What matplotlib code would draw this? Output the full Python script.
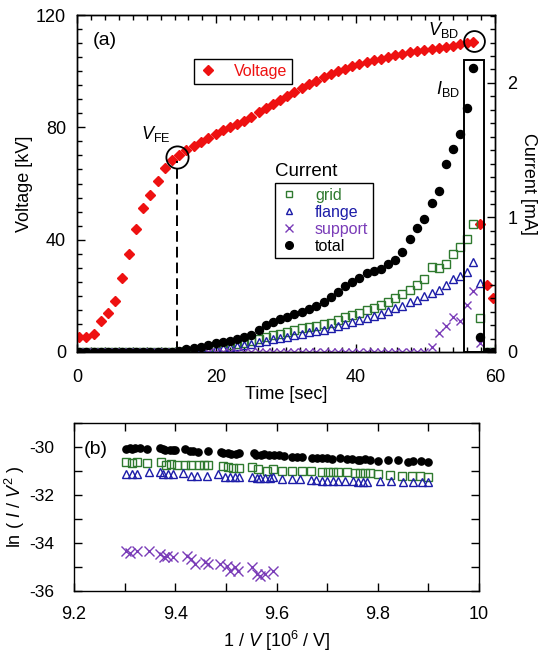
import matplotlib
matplotlib.use('Agg')
import matplotlib.pyplot as plt
from matplotlib.ticker import MultipleLocator, FuncFormatter
from matplotlib.patches import Rectangle
from matplotlib.lines import Line2D

plt.rcParams['font.family'] = ['Liberation Sans', 'DejaVu Sans']
plt.rcParams['mathtext.fontset'] = 'custom'
plt.rcParams['mathtext.rm'] = 'Liberation Sans'
plt.rcParams['mathtext.it'] = 'Liberation Sans:italic'
plt.rcParams['mathtext.bf'] = 'Liberation Sans:bold'
plt.rcParams['axes.unicode_minus'] = False

# ---------------- data: panel (a) ----------------
time_s = [0.3, 1.3, 2.4, 3.4, 4.4, 5.5, 6.5, 7.5, 8.5, 9.5, 10.5, 11.6, 12.6, 13.7,
          14.7, 15.7, 16.8, 17.8, 18.8, 19.9, 20.9, 21.9, 23.0, 24.0,
          25.0, 26.1, 27.1, 28.1, 29.2, 30.2, 31.2, 32.3, 33.3, 34.3,
          35.4, 36.4, 37.4, 38.5, 39.5, 40.5, 41.6, 42.6, 43.6, 44.7,
          45.7, 46.7, 47.8, 48.8, 49.8, 50.9, 51.9, 52.9, 54.0, 55.0,
          56.0, 56.9, 57.8, 58.8, 59.7]
voltage_kv = [5.2, 5.2, 6.3, 11.0, 14.0, 18.3, 26.2, 34.9, 43.7, 51.1, 55.9, 61.0, 65.6, 68.3,
              70.3, 72.0, 73.4, 74.8, 76.2, 77.6, 78.9, 80.1, 81.3, 82.4,
              83.8, 85.4, 87.0, 88.4, 89.9, 91.2, 92.5, 94.0, 95.3, 96.6,
              97.9, 99.0, 99.9, 100.9, 101.7, 102.5, 103.2, 103.9, 104.5, 105.2,
              105.7, 106.2, 106.7, 107.1, 107.5, 107.9, 108.3, 108.7, 109.1, 109.5,
              109.9, 110.3, 45.5, 23.8, 19.3]
grid_ma = [0.0, 0.0, 0.0, 0.0, 0.0, 0.0, 0.0, 0.0, 0.0, 0.0, 0.0, 0.0, 0.0, 0.0,
           0.0, 0.005, 0.01, 0.015, 0.02, 0.03, 0.04, 0.05, 0.06, 0.07,
           0.08, 0.1, 0.115, 0.125, 0.135, 0.15, 0.16, 0.175, 0.185, 0.195,
           0.205, 0.218, 0.24, 0.26, 0.275, 0.29, 0.31, 0.33, 0.35, 0.37,
           0.4, 0.43, 0.46, 0.5, 0.545, 0.634, 0.627, 0.655, 0.73, 0.783,
           0.84, 0.95, 0.25, 0.0, 0.0]
flange_ma = [0.0, 0.0, 0.0, 0.0, 0.0, 0.0, 0.0, 0.0, 0.0, 0.0, 0.0, 0.0, 0.0, 0.0,
             0.0, 0.005, 0.008, 0.012, 0.017, 0.023, 0.03, 0.037, 0.045, 0.053,
             0.062, 0.075, 0.085, 0.095, 0.105, 0.115, 0.125, 0.135, 0.145, 0.155,
             0.165, 0.175, 0.19, 0.205, 0.22, 0.235, 0.255, 0.27, 0.285, 0.305,
             0.325, 0.345, 0.37, 0.39, 0.415, 0.44, 0.46, 0.5, 0.545, 0.565,
             0.597, 0.671, 0.51, 0.0, 0.0]
support_ma = [0.0, 0.0, 0.0, 0.0, 0.0, 0.0, 0.0, 0.0, 0.0, 0.0, 0.0, 0.0, 0.0, 0.0,
              0.0, 0.0, 0.0, 0.0, 0.0, 0.0, 0.0, 0.0, 0.0, 0.0,
              0.0, 0.0, 0.0, 0.0, 0.0, 0.0, 0.0, 0.0, 0.0, 0.0,
              0.0, 0.0, 0.0, 0.0, 0.0, 0.0, 0.0, 0.0, 0.0, 0.0,
              0.0, 0.0, 0.0, 0.0, 0.0, 0.035, 0.14, 0.19, 0.26, 0.23,
              0.35, 0.45, 0.067, 0.0, 0.0]
total_ma = [0.0, 0.0, 0.0, 0.0, 0.0, 0.0, 0.0, 0.0, 0.0, 0.0, 0.0, 0.0, 0.0, 0.0,
            0.01, 0.02, 0.03, 0.04, 0.05, 0.065, 0.075, 0.085, 0.097, 0.11,
            0.13, 0.16, 0.2, 0.225, 0.245, 0.26, 0.28, 0.3, 0.32, 0.345,
            0.37, 0.41, 0.445, 0.49, 0.52, 0.55, 0.585, 0.605, 0.62, 0.655,
            0.685, 0.74, 0.84, 0.92, 0.99, 1.11, 1.2, 1.4, 1.51, 1.62,
            1.81, 2.11, 0.114, 0.0, 0.0]

# annotation points
vfe_point = (14.4, 69.6)
vbd_point = (56.95, 110.8)
ibd_box = (55.6, 58.4, 2.17)   # t_start, t_end, top current

# ---------------- data: panel (b) ----------------
tot_x = [9.303, 9.31, 9.315, 9.32, 9.33, 9.345, 9.37, 9.375, 9.38, 9.39, 9.395, 9.40,
         9.42, 9.43, 9.435, 9.445, 9.465, 9.49, 9.495, 9.505, 9.51, 9.52, 9.525,
         9.555, 9.56, 9.57, 9.575, 9.585, 9.595, 9.605, 9.615, 9.63, 9.64, 9.65,
         9.67, 9.68, 9.69, 9.70, 9.71, 9.725, 9.74, 9.75, 9.76, 9.765, 9.775, 9.785,
         9.80, 9.82, 9.84, 9.86, 9.87, 9.885, 9.90]
tot_y = [-30.08, -30.05, -30.1, -30.06, -30.05, -30.07, -30.05, -30.1, -30.12, -30.12, -30.14, -30.12,
         -30.1, -30.18, -30.15, -30.2, -30.17, -30.2, -30.25, -30.25, -30.28, -30.3, -30.27,
         -30.25, -30.33, -30.35, -30.3, -30.32, -30.35, -30.33, -30.38, -30.4, -30.42, -30.42,
         -30.45, -30.47, -30.45, -30.45, -30.48, -30.45, -30.5, -30.5, -30.55, -30.53, -30.52, -30.55,
         -30.58, -30.55, -30.55, -30.62, -30.6, -30.58, -30.62]
grid_x = [9.303, 9.314, 9.325, 9.344, 9.371, 9.381, 9.391, 9.403, 9.419, 9.432, 9.446, 9.457,
          9.465, 9.495, 9.505, 9.515, 9.525, 9.551, 9.564, 9.581, 9.594, 9.610, 9.630, 9.650,
          9.669, 9.689, 9.702, 9.712, 9.722, 9.739, 9.755, 9.765, 9.775, 9.785, 9.801, 9.824,
          9.847, 9.867, 9.883, 9.900]
grid_y = [-30.63, -30.66, -30.63, -30.67, -30.63, -30.77, -30.70, -30.77, -30.73, -30.77, -30.77, -30.77,
          -30.77, -30.80, -30.84, -30.88, -30.88, -30.84, -30.93, -30.98, -30.91, -30.98, -31.02, -30.98,
          -31.02, -31.05, -31.05, -31.05, -31.05, -31.05, -31.09, -31.09, -31.09, -31.09, -31.12, -31.16,
          -31.19, -31.19, -31.19, -31.23]
fl_x = [9.303, 9.314, 9.325, 9.349, 9.369, 9.376, 9.386, 9.396, 9.416, 9.432, 9.442, 9.462,
        9.485, 9.498, 9.508, 9.518, 9.525, 9.551, 9.561, 9.567, 9.577, 9.587, 9.594, 9.610,
        9.630, 9.646, 9.669, 9.679, 9.689, 9.699, 9.712, 9.722, 9.735, 9.752, 9.761, 9.771,
        9.778, 9.804, 9.827, 9.850, 9.870, 9.887, 9.900]
fl_y = [-31.12, -31.12, -31.12, -31.05, -31.05, -31.14, -31.14, -31.14, -31.09, -31.19, -31.19, -31.19,
        -31.14, -31.23, -31.23, -31.23, -31.23, -31.23, -31.28, -31.28, -31.28, -31.28, -31.26, -31.33,
        -31.33, -31.33, -31.37, -31.37, -31.40, -31.40, -31.40, -31.40, -31.40, -31.42, -31.47, -31.47,
        -31.47, -31.42, -31.42, -31.47, -31.47, -31.47, -31.47]
sup_x = [9.303, 9.311, 9.325, 9.349, 9.370, 9.378, 9.383, 9.396, 9.423, 9.432, 9.439, 9.459,
         9.465, 9.488, 9.502, 9.508, 9.518, 9.523, 9.551, 9.561, 9.567, 9.577, 9.594]
sup_y = [-34.33, -34.40, -34.35, -34.35, -34.47, -34.60, -34.53, -34.58, -34.53, -34.67, -34.88, -34.81,
         -34.88, -34.88, -34.95, -35.16, -35.02, -35.16, -35.02, -35.30, -35.37, -35.30, -35.16]

# ---------------- style ----------------
RED = '#ee1111'
GREEN = '#2f7a2f'
BLUE = '#1c1ca8'
PURPLE = '#7a3cb8'
FS = 13

fig = plt.figure(figsize=(5.43, 6.53), dpi=100)
W, H = 543.0, 653.0

# panel (a)
ax = fig.add_axes([77 / W, 1 - 352 / H, 418 / W, 337 / H])
ax2 = ax.twinx()

ax.plot(time_s, voltage_kv, ls='none', marker='D', ms=5.6, color=RED, mec=RED, zorder=3)
ax.set_xlim(0, 60)
ax.set_ylim(0, 120)
ax.xaxis.set_major_locator(MultipleLocator(20))
ax.xaxis.set_minor_locator(MultipleLocator(2))
ax.yaxis.set_major_locator(MultipleLocator(40))
ax.yaxis.set_minor_locator(MultipleLocator(5))
ax.tick_params(which='both', direction='in', top=True, right=False, labelsize=FS, width=1)
ax.tick_params(which='major', length=6)
ax.tick_params(which='minor', length=3.5)
ax.tick_params(axis='x', which='major', pad=12)
ax.tick_params(axis='y', which='major', pad=8)
ax.set_xlabel('Time [sec]', fontsize=FS, labelpad=0)
ax.set_ylabel('Voltage [kV]', fontsize=FS, labelpad=2)

ax2.set_ylim(0, 2.505)
ax2.yaxis.set_major_locator(MultipleLocator(1))
ax2.yaxis.set_minor_locator(MultipleLocator(0.1))
ax2.tick_params(which='both', direction='in', labelsize=FS, width=1)
ax2.tick_params(which='major', length=6, pad=9)
ax2.tick_params(which='minor', length=3.5)
ax2.set_ylabel('Current [mA]', fontsize=FS, rotation=270, labelpad=14)

ax2.plot(time_s, grid_ma, ls='none', marker='s', ms=5.6, mfc='none', mec=GREEN, mew=1.0)
ax2.plot(time_s, flange_ma, ls='none', marker='^', ms=5.4, mfc='none', mec=BLUE, mew=1.0)
ax2.plot(time_s, support_ma, ls='none', marker='x', ms=6.0, color=PURPLE, mew=1.0)
ax2.plot(time_s, total_ma, ls='none', marker='o', ms=5.8, color='black')

for a in (ax, ax2):
    for s in a.spines.values():
        s.set_linewidth(1.0)

# annotations (voltage coordinates)
ax.plot([vfe_point[0]], [vfe_point[1]], marker='o', ms=16, mfc='none', mec='black', mew=1.3, zorder=5)
ax.plot([vbd_point[0]], [vbd_point[1]], marker='o', ms=15, mfc='none', mec='black', mew=1.3, zorder=5)
ax.plot([vfe_point[0] - 0.05, vfe_point[0] - 0.05], [0, vfe_point[1] - 1.5], color='black', lw=1.4,
        dashes=(5.5, 2.6), zorder=4)
ax2.add_patch(Rectangle((ibd_box[0], 0), ibd_box[1] - ibd_box[0], ibd_box[2], fill=False,
                        ec='black', lw=1.4, zorder=5))
ax.text(2.2, 111, '(a)', fontsize=FS + 1, ha='left', va='center')
ax.text(11.3, 77.5, r'$V_{\rm FE}$', fontsize=FS, ha='center', va='center')
ax.text(52.6, 114.6, r'$V_{\rm BD}$', fontsize=FS, ha='center', va='center')
ax.text(53.2, 93.6, r'$I_{\rm BD}$', fontsize=FS, ha='center', va='center')

# legends
hv = [Line2D([], [], ls='none', marker='D', ms=5.6, color=RED)]
lv = ax.legend(hv, ['Voltage'], loc='upper left', bbox_to_anchor=((194 - 77) / 418, (352 - 59) / 337),
               borderaxespad=0, frameon=True, fancybox=False, edgecolor='black', fontsize=11.5,
               handlelength=1.2, handletextpad=1.0, borderpad=0.3, framealpha=1)
lv.get_frame().set_linewidth(1.0)
lv.get_texts()[0].set_color(RED)

hc = [Line2D([], [], ls='none', marker='s', ms=5.0, mfc='none', mec=GREEN, mew=1.0),
      Line2D([], [], ls='none', marker='^', ms=5.0, mfc='none', mec=BLUE, mew=1.0),
      Line2D([], [], ls='none', marker='x', ms=5.5, color=PURPLE, mew=1.0),
      Line2D([], [], ls='none', marker='o', ms=5.5, color='black')]
lc = ax2.legend(hc, ['grid', 'flange', 'support', 'total'], loc='upper left',
                bbox_to_anchor=((275 - 77) / 418, (352 - 183) / 337), borderaxespad=0,
                frameon=True, fancybox=False, edgecolor='black', fontsize=11.5,
                handlelength=1.2, handletextpad=1.0, borderpad=0.3, labelspacing=0.12, framealpha=1)
lc.get_frame().set_linewidth(1.0)
for t, c in zip(lc.get_texts(), [GREEN, BLUE, PURPLE, 'black']):
    t.set_color(c)
ax2.text((275 - 77) / 418, (352 - 180) / 337, 'Current', transform=ax2.transAxes, fontsize=FS + 0.5,
         ha='left', va='bottom')

# panel (b)
bx = fig.add_axes([74 / W, 1 - 591 / H, 405 / W, 168 / H])
bx.plot(tot_x, tot_y, ls='none', marker='o', ms=5.2, color='black')
bx.plot(grid_x, grid_y, ls='none', marker='s', ms=5.6, mfc='none', mec=GREEN, mew=1.0)
bx.plot(fl_x, fl_y, ls='none', marker='^', ms=5.4, mfc='none', mec=BLUE, mew=1.0)
bx.plot(sup_x, sup_y, ls='none', marker='x', ms=6.5, color=PURPLE, mew=1.0)
bx.set_xlim(9.2, 10.0)
bx.set_ylim(-36, -29)
bx.xaxis.set_major_locator(MultipleLocator(0.2))
bx.xaxis.set_major_formatter(FuncFormatter(lambda v, p: ('%g' % round(v, 1))))
bx.xaxis.set_minor_locator(MultipleLocator(0.1))
bx.yaxis.set_major_locator(MultipleLocator(2))
bx.yaxis.set_minor_locator(MultipleLocator(1))
bx.tick_params(which='both', direction='in', top=True, right=True, labelsize=FS, width=1)
bx.tick_params(axis='y', labelsize=12.5)
bx.tick_params(which='major', length=6)
bx.tick_params(which='minor', length=6)
bx.tick_params(axis='x', which='major', pad=11)
bx.tick_params(axis='y', which='major', pad=14)
for s in bx.spines.values():
    s.set_linewidth(1.0)
bx.set_xlabel(r'1 / $V$ [10$^6$ / V]', fontsize=FS, labelpad=4)
bx.set_ylabel(r'ln ( $I$ / $V^2$ )', fontsize=FS, labelpad=2)
bx.text(9.22, -30.1, '(b)', fontsize=FS + 1, ha='left', va='center')

fig.savefig('out.png', dpi=100)
